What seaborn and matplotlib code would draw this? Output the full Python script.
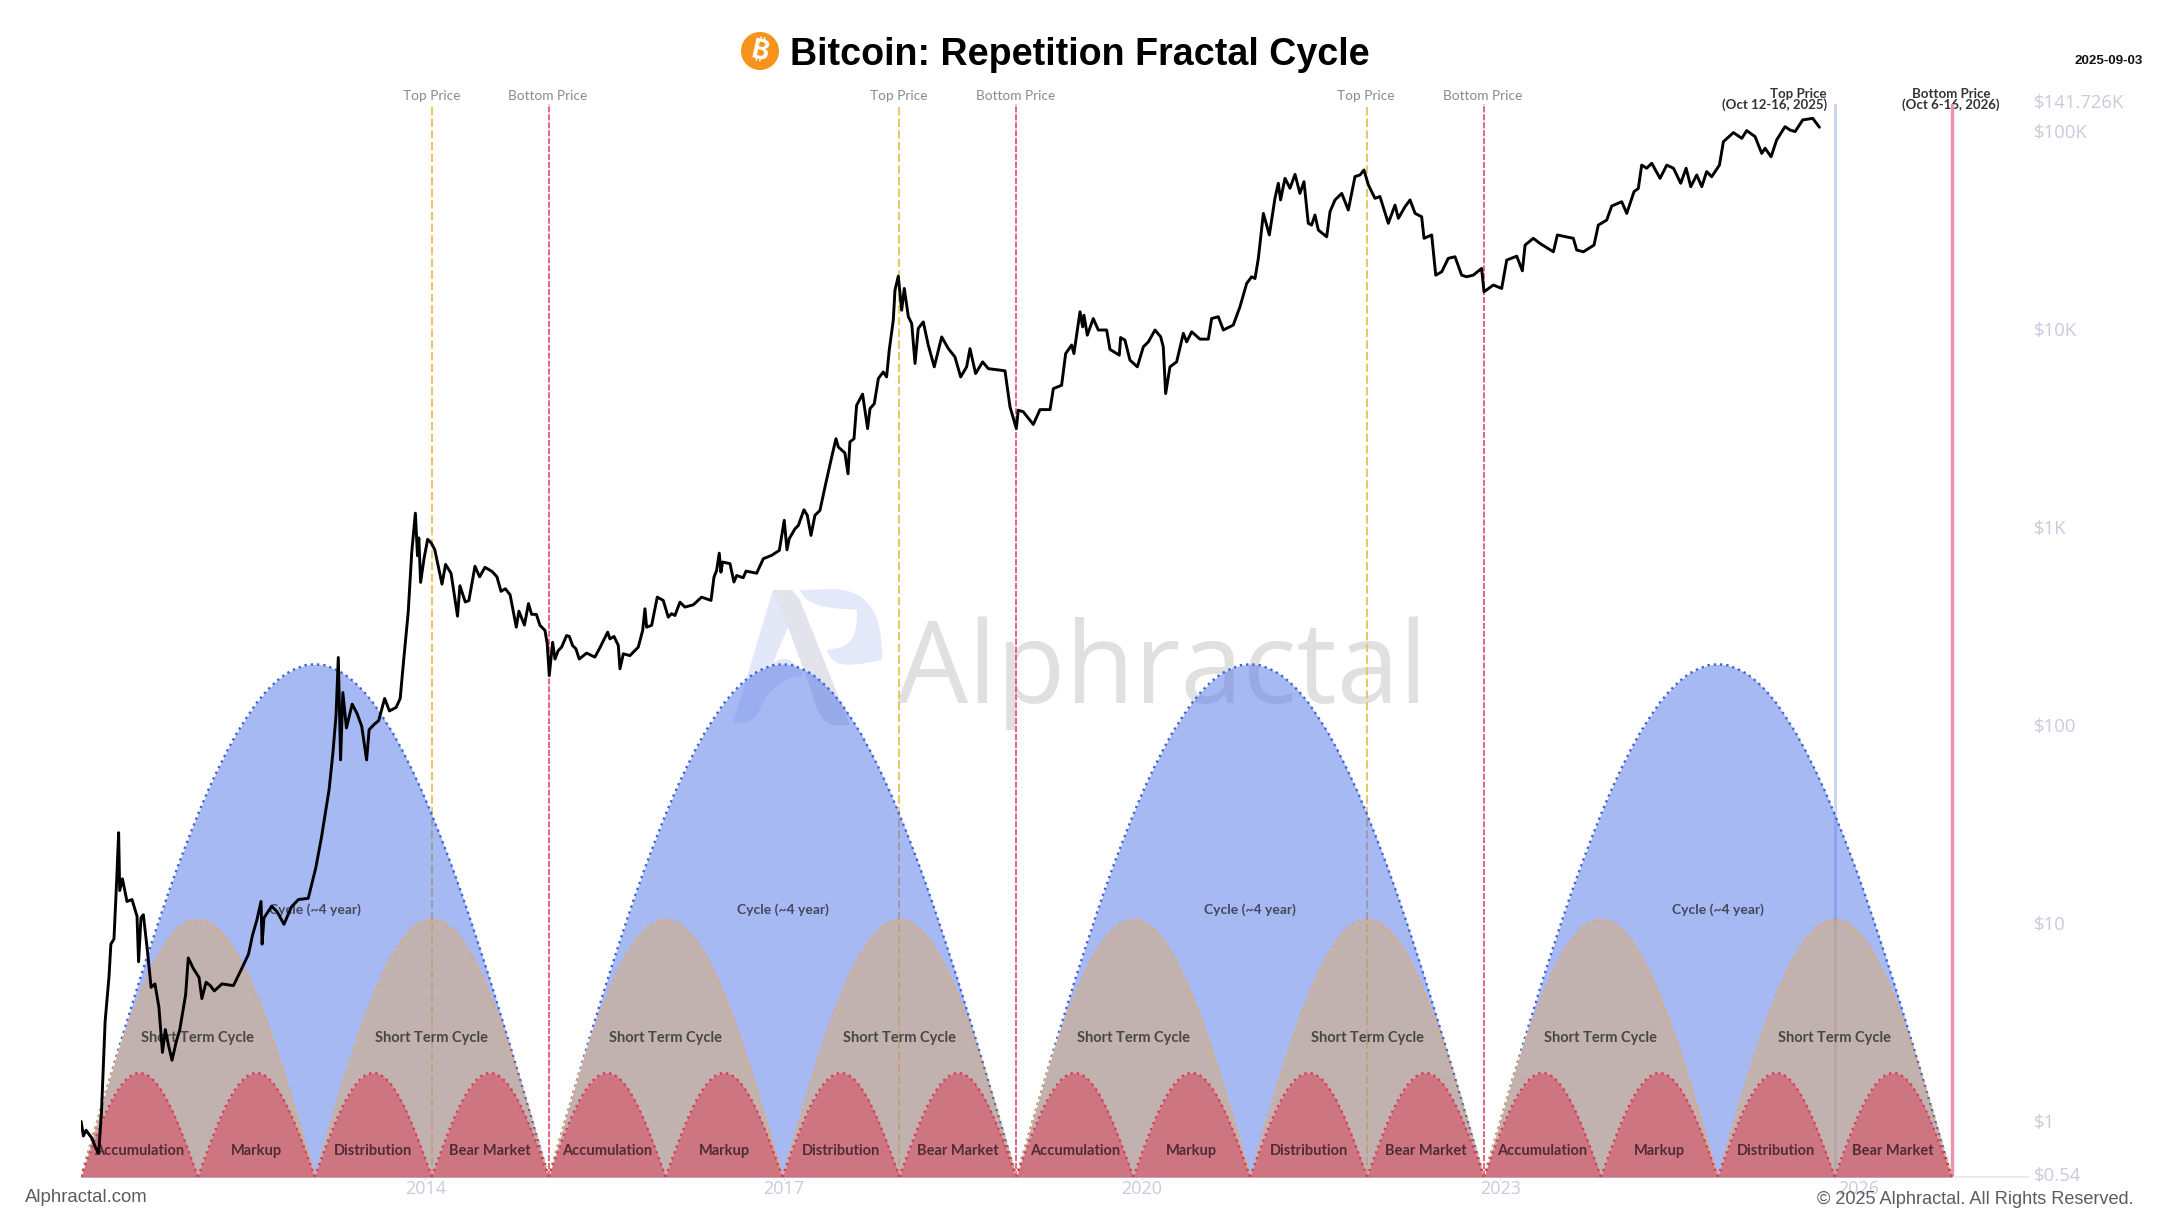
#!/usr/bin/env python3
# -*- coding: utf-8 -*-
import matplotlib
matplotlib.use('Agg')
import numpy as np
import seaborn as sns
import matplotlib.pyplot as plt
from matplotlib.patches import Circle, PathPatch
from matplotlib.path import Path
from matplotlib.transforms import ScaledTranslation

# btc price
btc_year = [
    2011.119, 2011.138, 2011.16, 2011.208, 2011.24, 2011.266, 2011.29, 2011.32, 2011.353, 2011.368,
    2011.394, 2011.417, 2011.433, 2011.442, 2011.465, 2011.503, 2011.545, 2011.587, 2011.6, 2011.62,
    2011.64, 2011.673, 2011.689, 2011.705, 2011.737, 2011.77, 2011.80, 2011.824, 2011.85, 2011.88,
    2011.915, 2011.945, 2011.994, 2012.016, 2012.058, 2012.106, 2012.13, 2012.165, 2012.2, 2012.234,
    2012.298, 2012.394, 2012.458, 2012.52, 2012.554, 2012.59, 2012.625, 2012.634, 2012.65, 2012.714,
    2012.76, 2012.817, 2012.88, 2012.938, 2013.02, 2013.083, 2013.13, 2013.195, 2013.227, 2013.253,
    2013.272, 2013.291, 2013.31, 2013.34, 2013.388, 2013.43, 2013.468, 2013.509, 2013.53, 2013.57,
    2013.61, 2013.66, 2013.70, 2013.756, 2013.79, 2013.82, 2013.857, 2013.887, 2013.917, 2013.935,
    2013.946, 2013.961, 2013.99, 2014.02, 2014.05, 2014.08, 2014.14, 2014.17, 2014.216, 2014.27,
    2014.29, 2014.335, 2014.365, 2014.416, 2014.455, 2014.5, 2014.56, 2014.6, 2014.634, 2014.67,
    2014.71, 2014.762, 2014.784, 2014.83, 2014.864, 2014.89, 2014.93,
    2014.96, 2015.002, 2015.021, 2015.038, 2015.066, 2015.086, 2015.113, 2015.141, 2015.183, 2015.206,
    2015.233, 2015.261, 2015.289, 2015.351, 2015.42, 2015.457, 2015.527, 2015.546, 2015.58, 2015.616,
    2015.63, 2015.658, 2015.713, 2015.783, 2015.82, 2015.839, 2015.853, 2015.895, 2015.942, 2015.992,
    2016.034, 2016.062, 2016.09, 2016.132, 2016.174, 2016.244, 2016.313, 2016.392, 2016.417, 2016.439,
    2016.461, 2016.475, 2016.489, 2016.551, 2016.584, 2016.607, 2016.662, 2016.685, 2016.774, 2016.83,
    2016.9, 2016.964, 2017.005, 2017.028, 2017.047, 2017.095, 2017.123, 2017.17, 2017.198, 2017.229,
    2017.262, 2017.304, 2017.346, 2017.396, 2017.438, 2017.458, 2017.513, 2017.539, 2017.555, 2017.589,
    2017.611, 2017.661, 2017.703, 2017.723, 2017.759, 2017.793, 2017.834, 2017.862, 2017.884, 2017.918,
    2017.932, 2017.96, 2017.988, 2018.01, 2018.044, 2018.072, 2018.1, 2018.127, 2018.169, 2018.211,
    2018.261, 2018.323, 2018.379, 2018.434, 2018.482, 2018.532, 2018.56, 2018.607, 2018.666, 2018.713,
    2018.853, 2018.895, 2018.948, 2018.964, 2019.006, 2019.09, 2019.146, 2019.23, 2019.258, 2019.327,
    2019.361, 2019.411, 2019.43, 2019.481, 2019.503, 2019.514, 2019.542, 2019.592, 2019.634, 2019.704,
    2019.732, 2019.81, 2019.821, 2019.857, 2019.899, 2019.961, 2020.011, 2020.053, 2020.109, 2020.156,
    2020.178, 2020.198, 2020.234, 2020.29, 2020.346, 2020.374, 2020.416, 2020.485, 2020.555, 2020.583,
    2020.639, 2020.681, 2020.764, 2020.82, 2020.876, 2020.918, 2020.946, 2020.974, 2021.016, 2021.043,
    2021.066, 2021.113, 2021.141, 2021.16, 2021.197, 2021.239, 2021.281, 2021.322, 2021.356, 2021.392,
    2021.42, 2021.448, 2021.476, 2021.546, 2021.574, 2021.616, 2021.672, 2021.727, 2021.783, 2021.825,
    2021.858, 2021.895, 2021.95, 2021.992, 2022.062, 2022.118, 2022.146, 2022.202, 2022.244, 2022.286,
    2022.341, 2022.361, 2022.425, 2022.459, 2022.509, 2022.564, 2022.62, 2022.676, 2022.718, 2022.773,
    2022.843, 2022.863, 2022.941, 2023.011, 2023.053, 2023.137, 2023.184, 2023.207, 2023.276, 2023.332,
    2023.444, 2023.477, 2023.611, 2023.639, 2023.695, 2023.784, 2023.82, 2023.89, 2023.932, 2024.016,
    2024.058, 2024.119, 2024.155, 2024.183, 2024.225, 2024.267, 2024.337, 2024.393, 2024.449, 2024.51,
    2024.555, 2024.594, 2024.644, 2024.686, 2024.727, 2024.769, 2024.834, 2024.867, 2024.951, 2025.021,
    2025.062, 2025.132, 2025.188, 2025.216, 2025.266, 2025.313, 2025.383, 2025.425, 2025.467, 2025.531,
    2025.615, 2025.671]
btc_price = [
    1.03, 0.87, 0.93, 0.85, 0.76, 0.71, 1.17, 3.3, 5.6, 8.1,
    8.6, 17.2, 29.6, 15.1, 17.3, 13.3, 13.6, 11.2, 6.6, 11,
    11.4, 7.6, 6.1, 4.9, 5.1, 3.9, 2.3, 3.0, 2.5, 2.1,
    2.6, 3.0, 4.5, 6.9, 6.1, 5.5, 4.3, 5.2, 5.0, 4.7,
    5.1, 5.0, 6.0, 7.2, 9, 10.7, 13.3, 8.1, 11, 12.6,
    11.8, 10.2, 12.5, 13.6, 13.8, 19.6, 27.8, 48.9, 75, 116,
    227, 69, 151, 100, 132, 118, 102, 69, 98, 104,
    109, 141, 122, 127, 141, 223, 383, 776, 1216, 741,
    912, 544, 720, 897, 860, 794, 533, 670, 604, 367,
    523, 433, 440, 656, 580, 648, 617, 580, 490, 505,
    471, 323, 389, 331, 425, 375, 375,
    330, 311, 266, 184, 271, 223, 246, 256, 293, 290,
    261, 251, 223, 239, 228, 251, 305, 282, 290, 261,
    199, 237, 232, 256, 311, 400, 323, 330, 458, 441,
    363, 378, 370, 432, 408, 419, 458, 441, 578, 625,
    764, 612, 689, 676, 546, 589, 574, 620, 605, 716,
    745, 789, 1119, 794, 904, 1014, 1054, 1265, 1186, 939,
    1186, 1256, 1648, 2249, 2891, 2624, 2449, 1923, 2786, 2891,
    4266, 4853, 3251, 4102, 4345, 5821, 6281, 5929, 8091, 11482,
    16255, 19144, 12882, 16596, 11940, 11041, 6934, 10423, 11246, 8570,
    6668, 9441, 8241, 7482, 5929, 6668, 8241, 6166, 7063, 6531,
    6368, 4188, 3251, 4027, 3954, 3412, 4055, 4055, 5176, 5383,
    7780, 8590, 7780, 12647, 10617, 12162, 9638, 11695, 10233, 10233,
    8166, 7638, 9376, 9099, 7211, 6668, 8414, 8913, 10233, 9462,
    8414, 4887, 6668, 7063, 9840, 8913, 10023, 9204, 9204, 11695,
    11940, 10233, 10839, 13397, 17579, 19011, 18621, 23550, 39719, 34674,
    30903, 47315, 56364, 46452, 59704, 53211, 62517, 50119, 57412, 35400,
    34674, 38994, 32734, 30269, 40551, 46452, 50119, 41305, 60954, 62087,
    65766, 55335, 47315, 48306, 35400, 43752, 37497, 42954, 46452, 39719,
    38194, 29717, 30903, 19364, 20137, 23550, 23988, 19364, 19011, 19364,
    20941, 15959, 17258, 16596, 23067, 24155, 20370, 27479, 29717, 27990,
    25410, 30903, 29717, 25942, 25410, 27479, 34674, 36728, 43251, 45499,
    39719, 51168, 53088, 69663, 67143, 71121, 59704, 69663, 67143, 56364,
    67143, 54200, 62087, 54200, 64565, 60814, 69663, 91411, 101625, 95060,
    103992, 97051, 79799, 84723, 76736, 93325, 108893, 104713, 102802, 117761,
    119950, 108143]

# cycles and arcs
cycle_start = [2011.118, 2015.033, 2018.948, 2022.863]
cycle_len = 3.915
top_year = [2014.054, 2017.969, 2021.884, 2025.799]
bottom_year = [2015.033, 2018.948, 2022.863, 2026.778]
price_floor = 0.54
cycle_peak = 210
short_peak = 10.8
phase_peak = 1.81
# half of an arc, as share of its height above the floor
arc_half = [0, .065, .13, .195, .259, .321, .383, .442, .5, .556, .609, .659, .707,
            .752, .793, .831, .866, .896, .924, .947, .966, .981, .991, .998, 1]

phase_names = ['Accumulation', 'Markup', 'Distribution', 'Bear Market']
cycle_label_price = 12.1
short_label_price = 2.72
phase_label_price = 0.73

ytick_vals = [0.54, 1, 10, 100, 1000, 10000, 100000, 141726]
ytick_text = ['$0.54', '$1', '$10', '$100', '$1K', '$10K', '$100K', '$141.726K']
xtick_vals = [2014, 2017, 2020, 2023, 2026]


def draw_arc(ax, start, width, peak, fill, edge, alpha):
    shape = np.array(arc_half + arc_half[-2::-1])
    x = np.linspace(start, start + width, len(shape))
    y = price_floor * (peak / price_floor) ** shape
    ax.fill_between(x, price_floor, y, color=fill, alpha=alpha, linewidth=0, zorder=3)
    ax.plot(x, y, color=edge, linestyle=':', linewidth=1.7, zorder=3.2)


W, H = 2182, 1224
sns.set_theme(style='white')
plt.rcParams['font.family'] = ['Liberation Sans', 'DejaVu Sans']
fig = plt.figure(figsize=(W / 100, H / 100), dpi=100, facecolor='white')

# overlay in pixel coords for watermark and header stuff
bg = fig.add_axes([0, 0, 1, 1], zorder=0)
bg.set_xlim(0, W)
bg.set_ylim(H, 0)
bg.axis('off')

ax = fig.add_axes([81 / W, 1 - 1177 / H, (2028 - 81) / W, (1177 - 104) / H], zorder=1)
ax.patch.set_alpha(0)
ax.set_yscale('log')
ax.set_xlim(2011.118, 2027.417)
ax.set_ylim(0.54, 141726)

# watermark logo
M, L, C = Path.MOVETO, Path.LINETO, Path.CURVE4
wm_left = Path([(773, 590), (790, 590), (788, 627), (773, 663), (782, 655), (796, 658), (803, 676),
                (785, 676), (768, 690), (760, 708), (756, 720), (750, 724), (733, 723), (773, 590)],
               [M, L, L, L, C, C, C, C, C, C, C, C, C, L])
wm_right = Path([(773, 590), (792, 590), (800, 600), (837, 693), (850, 725), (833, 725), (820, 722), (815, 705),
                 (810, 687), (788, 627), (773, 590)],
                [M, L, L, L, L, L, C, C, C, L, L])
wm_bowl = Path([(800, 590), (833, 589), (882, 590), (882, 637), (882, 660), (855, 665), (833, 671), (827, 650),
                (837, 648), (857, 645), (857, 623), (857, 610), (840, 608), (807, 610), (800, 590)],
               [M, L, C, C, C, C, C, L, L, C, C, C, C, L, L])
for p, c in [(wm_left, '#E3E8F8'), (wm_bowl, '#E4E9F9'), (wm_right, '#E3E3EC')]:
    bg.add_patch(PathPatch(p, facecolor=c, edgecolor='none'))
bg.text(897, 703, 'Alphractal', family='Open Sans', fontsize=81, fontweight='normal', color='#E0E0E0', va='baseline', ha='left')

# cycle marker lines
for i in range(4):
    if i < 3:
        ax.axvline(top_year[i], color='#E9C668', linestyle=(0, (4, 1.6)), linewidth=1.5, zorder=2)
        ax.axvline(bottom_year[i], color='#DC3B5A', linestyle=(0, (4, 1.2)), linewidth=1.1, zorder=2)
    else:
        ax.axvline(top_year[i], color='#CBD7F0', linewidth=2.2, zorder=2)
        ax.axvline(bottom_year[i], color='#EE93A6', linewidth=2.4, zorder=2)

# arcs
for s in cycle_start:
    draw_arc(ax, s, cycle_len, cycle_peak, '#4D70E8', '#3F63D8', 0.49)
    for j in range(2):
        draw_arc(ax, s + j * cycle_len / 2, cycle_len / 2, short_peak, '#E6AA5A', '#E8A85C', 0.44)
    for j in range(4):
        draw_arc(ax, s + j * cycle_len / 4, cycle_len / 4, phase_peak, '#DC3250', '#DC3B55', 0.47)

    ax.text(s + cycle_len / 2, cycle_label_price, 'Cycle (~4 year)', family='Lato', fontweight='bold', fontsize=10,
            color='#333344', alpha=0.85, ha='center', va='center', zorder=4)
    for j in range(2):
        ax.text(s + (j + .5) * cycle_len / 2, short_label_price, 'Short Term Cycle', family='Lato', fontweight='bold',
                fontsize=10.5, color='#333333', alpha=0.85, ha='center', va='center', zorder=4)
    for j in range(4):
        ax.text(s + (j + .5) * cycle_len / 4, phase_label_price, phase_names[j], family='Lato', fontweight='bold',
                fontsize=10.5, color='#3a2028', alpha=0.85, ha='center', va='center', zorder=4)

sns.lineplot(x=btc_year, y=btc_price, ax=ax, estimator=None, sort=False, color='black', linewidth=2.1, zorder=5)

ax.set_xlabel('')
ax.set_ylabel('')
ax.set_yticks(ytick_vals)
ax.set_yticklabels(ytick_text)
ax.minorticks_off()
ax.set_xticks(xtick_vals)
ax.set_xticklabels([str(v) for v in xtick_vals])
ax.yaxis.tick_right()
ax.tick_params(axis='y', length=0, pad=4.5)
ax.tick_params(axis='x', length=2, width=1, color='#E4E6EE', pad=0, bottom=True)
for lab in ax.get_xticklabels():
    lab.set_family('Open Sans')
    lab.set_color('#C8CBDC')
    lab.set_fontsize(13)
# y labels sit a few px higher than tick centre in the original
lift = ScaledTranslation(0, 3 / 100, fig.dpi_scale_trans)
for lab in ax.get_yticklabels():
    lab.set_family('Open Sans')
    lab.set_color('#C8CBDC')
    lab.set_fontsize(13.3)
    lab.set_transform(lab.get_transform() + lift)
for side in ['top', 'left', 'right']:
    ax.spines[side].set_visible(False)
ax.spines['bottom'].set_color('#E4E6EE')
ax.spines['bottom'].set_linewidth(1.2)

# header
bg.add_patch(Circle((760, 51), 19, facecolor='#F7931A', edgecolor='none'))
bg.text(760, 52, '\u20bf', family=['Inter', 'Noto Sans', 'Roboto', 'Open Sans', 'Lato', 'DejaVu Sans'], fontweight='bold',
        fontsize=19, color='white', rotation=-12, ha='center', va='center')
bg.text(790, 55, 'Bitcoin: Repetition Fractal Cycle', fontsize=27.1, fontweight='bold', color='black', ha='left', va='center')
bg.text(2143, 61, '2025-09-03', fontsize=9.6, fontweight='bold', color='#111111', ha='right', va='center')

lab_xpx = [432, 548, 899, 1016, 1366, 1483]
lab_txt = ['Top Price', 'Bottom Price', 'Top Price', 'Bottom Price', 'Top Price', 'Bottom Price']
for x, t in zip(lab_xpx, lab_txt):
    bg.text(x, 96, t, family='Lato', fontsize=9.8, color='#8A8A8A', ha='center', va='center')

bg.text(1827, 94, 'Top Price', family='Lato', fontweight='bold', fontsize=9.5, color='#333333', ha='right', va='center')
bg.text(1827, 105, '(Oct 12-16, 2025)', family='Lato', fontweight='bold', fontsize=9.5, color='#333333', ha='right', va='center')
bg.text(1951, 94, 'Bottom Price', family='Lato', fontweight='bold', fontsize=9.5, color='#333333', ha='center', va='center')
bg.text(1951, 105, '(Oct 6-16, 2026)', family='Lato', fontweight='bold', fontsize=9.5, color='#333333', ha='center', va='center')

# footer goes over the axis labels
foot = fig.add_axes([0, 0, 1, 1], zorder=2)
foot.set_xlim(0, W)
foot.set_ylim(H, 0)
foot.axis('off')
foot.text(25, 1198, 'Alphractal.com', fontsize=13.4, color='#5C5C5C', ha='left', va='center')
foot.text(2134, 1200, '\u00a9 2025 Alphractal. All Rights Reserved.', fontsize=13.1, color='#5C5C5C', ha='right', va='center')

fig.savefig('out.png', dpi=100)
